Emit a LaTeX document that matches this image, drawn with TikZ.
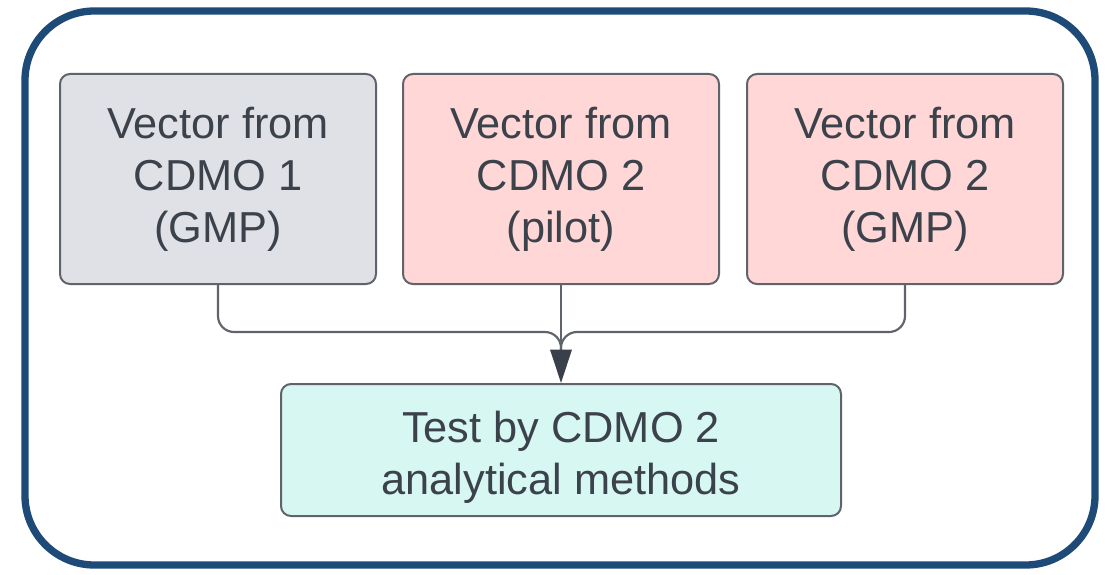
\documentclass[tikz,border=0pt]{standalone}
\usepackage{fontspec}
\setmainfont{Liberation Sans}
\usetikzlibrary{arrows.meta,calc}
\definecolor{frameblue}{HTML}{1D4A77}
\definecolor{edgegray}{HTML}{5F636A}
\definecolor{tipgray}{HTML}{3A4049}
\definecolor{txt}{HTML}{3B424B}
\definecolor{fillgray}{HTML}{DFE1E6}
\definecolor{fillpink}{HTML}{FFD7D7}
\definecolor{fillmint}{HTML}{D7F7F2}
\tikzset{
  box/.style={draw=edgegray, line width=1.5pt, rounded corners=7.5pt, align=center,
    text=txt, font=\fontsize{32.5}{39}\selectfont, inner sep=0pt},
  topbox/.style={box, minimum width=237pt, minimum height=157.5pt},
  conn/.style={draw=edgegray, line width=1.6pt},
}
\begin{document}
\begin{tikzpicture}[x=0.75pt,y=-0.75pt]
\useasboundingbox (0,0) rectangle (1105,574);
\draw[frameblue, line width=5.5pt, rounded corners=52pt] (25,11) rectangle (1095,565);
\node[topbox, fill=fillgray] (b1) at (218,179) {Vector from\\CDMO 1\\(GMP)};
\node[topbox, fill=fillpink] (b2) at (561,179) {Vector from\\CDMO 2\\(pilot)};
\node[topbox, fill=fillpink] (b3) at (905,179) {Vector from\\CDMO 2\\(GMP)};
\node[box, fill=fillmint, minimum width=420pt, minimum height=99pt] (tb) at (561,450)
  {\rule{0pt}{35pt}Test by CDMO 2\\analytical methods};
\coordinate (j) at (b2.south |- 0,332);
\coordinate (j2) at (b2.south |- 0,352);
\draw[conn, rounded corners=12pt] (b1.south) |- (j) -- (j2);
\draw[conn, rounded corners=12pt] (b3.south) |- (j) -- (j2);
\draw[conn, -{Triangle[length=25pt,width=16pt,color=tipgray]}] (b2.south) -- (tb.north);
\end{tikzpicture}
\end{document}
